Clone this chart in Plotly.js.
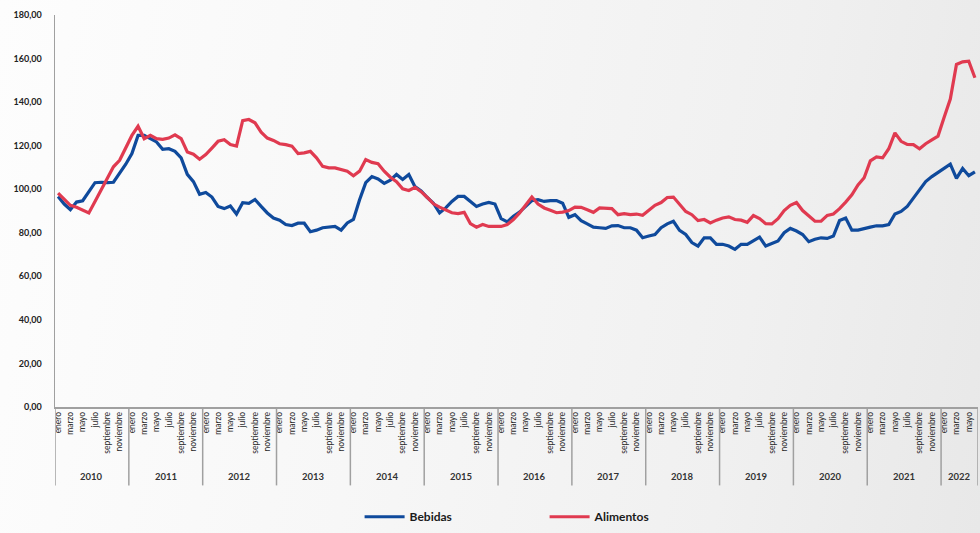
<!DOCTYPE html>
<html><head><meta charset="utf-8">
<script src="https://cdn.plot.ly/plotly-3.0.1.min.js"></script>
<style>
html,body{margin:0;padding:0;width:980px;height:533px;overflow:hidden;
background: linear-gradient(100deg, #fdfdfd 0%, #f7f7f7 40%, #f0f0f0 75%, #e8e8e8 100%);}
#chart{width:980px;height:533px;}
</style></head><body><div id="chart"></div>
<script>
const years = [2010,2011,2012,2013,2014,2015,2016,2017,2018,2019,2020,2021,2022];
const months = ['enero','febrero','marzo','abril','mayo','junio','julio','agosto','septiembre','octubre','noviembre','diciembre'];

const bebidas = [
  96.7, 93.2, 90.6, 94.1, 94.7, 99.0, 103.0, 103.2, 103.0, 103.2, 107.3, 111.5,
  116.4, 124.7, 124.7, 123.2, 121.7, 118.3, 118.6, 117.4, 114.4, 106.8, 103.5, 97.7,
  98.5, 96.4, 92.1, 91.1, 92.3, 88.6, 93.8, 93.5, 95.3, 92.1, 89.1, 86.8,
  85.8, 83.8, 83.3, 84.4, 84.4, 80.5, 81.2, 82.3, 82.6, 82.9, 81.2, 84.5,
  86.1, 95.2, 103.0, 105.8, 104.7, 102.7, 104.2, 106.8, 104.5, 106.8, 101.2, 99.2,
  96.2, 93.6, 89.1, 91.4, 94.4, 96.7, 96.7, 94.4, 92.1, 93.2, 93.9, 93.2,
  86.5, 85.0, 87.6, 89.5, 92.1, 94.8, 95.2, 94.4, 94.8, 94.8, 93.6, 87.1,
  88.3, 85.6, 84.1, 82.6, 82.3, 82.0, 83.2, 83.3, 82.3, 82.3, 81.2, 77.7,
  78.5, 79.2, 82.3, 84.1, 85.3, 81.1, 79.2, 75.5, 73.9, 77.7, 77.7, 74.7,
  74.7, 73.9, 72.4, 74.7, 74.7, 76.5, 78.0, 73.9, 75.0, 76.2, 80.0, 82.0,
  80.8, 79.2, 75.9, 77.0, 77.7, 77.4, 78.5, 85.6, 86.8, 81.2, 81.2, 82.0,
  82.6, 83.2, 83.2, 83.8, 88.6, 89.8, 92.1, 95.9, 100.0, 103.5, 105.8, 107.7,
  109.2, 111.5, 105.0, 109.5, 106.2, 108.0
];

const alimentos = [
  98.2, 95.2, 92.6, 91.7, 90.5, 89.1, 94.4, 99.7, 105.0, 110.3, 113.3, 119.4,
  124.7, 128.9, 123.2, 124.7, 123.2, 122.9, 123.5, 125.0, 123.2, 117.1, 116.1, 113.8,
  115.9, 118.9, 122.0, 122.7, 120.5, 119.8, 131.5, 132.0, 130.5, 126.2, 123.5, 122.4,
  120.9, 120.5, 119.8, 116.4, 116.7, 117.4, 114.4, 110.5, 109.8, 109.8, 109.1, 108.3,
  106.2, 108.3, 113.6, 112.3, 111.7, 108.3, 105.5, 103.5, 100.2, 99.4, 100.9, 98.9,
  96.2, 93.3, 91.8, 90.6, 89.2, 88.8, 89.4, 84.2, 82.6, 83.8, 82.9, 82.9,
  82.9, 83.8, 86.1, 89.1, 92.6, 96.4, 93.2, 91.4, 90.3, 89.2, 89.5, 90.2,
  91.8, 91.7, 90.6, 89.4, 91.4, 91.4, 91.1, 88.3, 88.8, 88.3, 88.6, 88.0,
  90.3, 92.6, 93.9, 96.2, 96.4, 92.9, 89.8, 88.3, 85.6, 86.1, 84.5, 85.8,
  86.8, 87.3, 86.1, 85.8, 84.8, 87.9, 86.5, 84.2, 84.1, 86.5, 90.2, 92.6,
  93.9, 90.2, 87.6, 85.3, 85.3, 88.0, 88.6, 91.1, 94.1, 97.4, 102.0, 105.3,
  113.0, 114.8, 114.4, 118.6, 125.9, 122.0, 120.6, 120.5, 118.6, 120.9, 122.7, 124.4,
  133.0, 141.4, 157.3, 158.5, 158.8, 151.2
];

const n = bebidas.length;
const categories = bebidas.map((_, i) => months[i % 12] + ' ' + years[Math.floor(i / 12)]);
const tickIdx = categories.map((_, i) => i).filter(i => i % 2 === 0);
const tickvals = tickIdx.map(i => categories[i]);
const ticktext = tickIdx.map(i => months[i % 12]);

const annotations = [];
const shapes = [];
const sepLine = {color: '#a0a0a0', width: 1.5};
years.forEach((yr, k) => {
  const first = 12 * k;
  if (first >= n) return;
  const last = Math.min(first + 11, n - 1);
  annotations.push({
    x: (first + last) / 2, xref: 'x', y: -0.178, yref: 'paper',
    text: String(yr), showarrow: false, yanchor: 'middle',
    font: {family: 'Lato, "Open Sans", sans-serif', size: 9.5, color: '#333', weight: 'bold'}
  });
  shapes.push({type: 'line', xref: 'x', yref: 'paper', x0: first - 0.5, x1: first - 0.5,
    y0: 0, y1: -0.2, line: sepLine});
});
shapes.push({type: 'line', xref: 'x', yref: 'paper', x0: n - 0.5, x1: n - 0.5, y0: 0, y1: -0.2, line: sepLine});

const traces = [
  {x: categories, y: bebidas, name: 'Bebidas', type: 'scatter', mode: 'lines',
   line: {color: '#0f4a9c', width: 3.2}},
  {x: categories, y: alimentos, name: 'Alimentos', type: 'scatter', mode: 'lines',
   line: {color: '#e03a50', width: 3.2}}
];

const layout = {
  width: 980, height: 533,
  margin: {l: 55, r: 2, t: 15, b: 122},
  paper_bgcolor: 'rgba(0,0,0,0)', plot_bgcolor: 'rgba(0,0,0,0)',
  separators: ',.',
  font: {family: 'Lato, "Open Sans", sans-serif', color: '#333'},
  showlegend: true,
  legend: {orientation: 'h', x: 0.33, xanchor: 'left', y: -0.28, yanchor: 'middle',
    font: {size: 12, color: '#1a1a1a', weight: 'bold'}, entrywidth: 130, itemwidth: 40,
    bgcolor: 'rgba(0,0,0,0)'},
  xaxis: {type: 'category', range: [-0.5, n - 0.5], tickmode: 'array', tickvals: tickvals, ticktext: ticktext,
    tickangle: -90, tickfont: {size: 8.5, color: '#2a2a2a'}, showline: true, linecolor: '#a0a0a0', linewidth: 1.5,
    showgrid: false, ticks: '', zeroline: false, fixedrange: true},
  yaxis: {range: [0, 180], dtick: 20, tickformat: '.2f', showline: true, linecolor: '#a0a0a0', linewidth: 1.5,
    showgrid: false, zeroline: false, ticks: '', ticklabelstandoff: 10,
    tickfont: {size: 9, color: '#222', weight: 'bold'}},
  annotations: annotations,
  shapes: shapes
};

Plotly.newPlot('chart', traces, layout, {displayModeBar: false, staticPlot: true});
</script></body></html>
